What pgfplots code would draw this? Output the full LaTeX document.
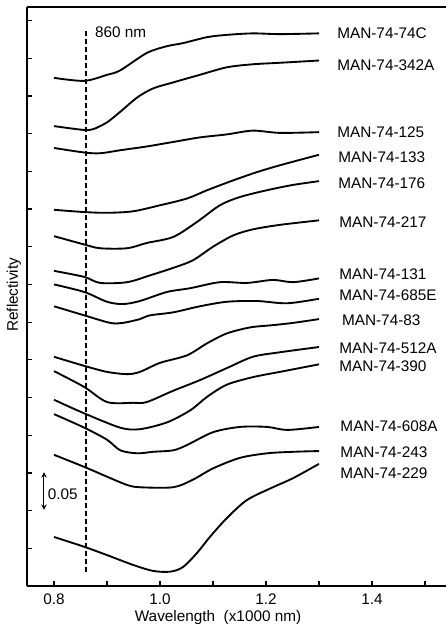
\documentclass[border=0pt]{standalone}
\usepackage{fontspec}
\setmainfont{Liberation Sans}
\usepackage{pgfplots}
\pgfplotsset{compat=1.18}
\begin{document}
\fontsize{11.5}{13}\selectfont
\begin{tikzpicture}
\pgfplotsset{crv/.style={black, line width=1.4pt, mark=none, solid, smooth, tension=0.5}}
\begin{axis}[name=ax, scale only axis, width=314.25pt, height=434.25pt,
  xmin=0.749, xmax=1.5396, ymin=0, ymax=0.768,
  axis x line=box, axis y line*=left,
  axis line style={-, line width=1.3pt},
  y axis line style={-},
  xtick={0.8,1.0,1.2,1.4}, minor xtick={0.9,1.1,1.3,1.5},
  ytick={0.05,0.10,0.15,0.20,0.25,0.30,0.35,0.40,0.45,0.50,0.55,0.60,0.65,0.70,0.75},
  yticklabels={},
  xtick pos=bottom, ytick pos=left,
  tick align=inside, major tick length=3.5pt, minor tick length=3.5pt,
  tick style={black, line width=0.9pt},
  xticklabel style={yshift=-2pt, /pgf/number format/.cd, fixed, fixed zerofill, precision=1, assume math mode=true},
  xlabel={Wavelength\ \ (x1000 nm)},
  x label style={at={(axis description cs:0.456,0)}, anchor=center, yshift=-23.5pt},
  ylabel={Reflectivity},
  y label style={at={(axis description cs:-0.031,0.503)}, anchor=center},
  clip=false
]
% MAN-74-74C
\addplot[crv] coordinates {(0.80,0.674) (0.857,0.670) (0.900,0.678) (0.925,0.684) (0.975,0.707) (1.013,0.716) (1.043,0.720) (1.089,0.728) (1.126,0.731) (1.175,0.733) (1.226,0.732) (1.30,0.733)};
% MAN-74-342A
\addplot[crv] coordinates {(0.80,0.610) (0.855,0.605) (0.874,0.606) (0.900,0.615) (0.925,0.629) (0.957,0.648) (0.987,0.660) (1.025,0.668) (1.075,0.678) (1.126,0.688) (1.175,0.692) (1.226,0.694) (1.30,0.697)};
% MAN-74-125
\addplot[crv] coordinates {(0.80,0.581) (0.857,0.575) (0.887,0.574) (0.925,0.578) (0.975,0.583) (1.025,0.589) (1.075,0.595) (1.126,0.599) (1.175,0.604) (1.226,0.601) (1.30,0.602)};
% MAN-74-133
\addplot[crv] coordinates {(0.80,0.499) (0.857,0.496) (0.900,0.495) (0.949,0.497) (1.000,0.505) (1.051,0.514) (1.089,0.525) (1.138,0.538) (1.183,0.549) (1.226,0.558) (1.30,0.572)};
% MAN-74-176
\addplot[crv] coordinates {(0.80,0.464) (0.857,0.453) (0.887,0.448) (0.938,0.448) (0.975,0.455) (1.025,0.463) (1.070,0.483) (1.113,0.505) (1.151,0.516) (1.202,0.525) (1.251,0.532) (1.30,0.537)};
% MAN-74-217
\addplot[crv] coordinates {(0.80,0.418) (0.857,0.410) (0.887,0.402) (0.938,0.403) (0.981,0.412) (1.025,0.422) (1.062,0.432) (1.100,0.450) (1.138,0.465) (1.175,0.473) (1.226,0.479) (1.30,0.485)};
% MAN-74-131
\addplot[crv] coordinates {(0.80,0.400) (0.857,0.390) (0.900,0.377) (0.930,0.374) (0.962,0.378) (1.013,0.390) (1.057,0.395) (1.113,0.403) (1.164,0.402) (1.213,0.406) (1.251,0.403) (1.30,0.408)};
% MAN-74-685E
\addplot[crv] coordinates {(0.80,0.371) (0.857,0.359) (0.906,0.349) (0.930,0.349) (0.962,0.354) (0.981,0.359) (1.025,0.363) (1.075,0.371) (1.126,0.377) (1.183,0.378) (1.240,0.375) (1.30,0.381)};
% MAN-74-83
\addplot[crv] coordinates {(0.80,0.304) (0.857,0.292) (0.900,0.284) (0.938,0.281) (0.962,0.284) (1.000,0.296) (1.051,0.306) (1.089,0.322) (1.126,0.335) (1.170,0.343) (1.213,0.346) (1.251,0.349) (1.30,0.354)};
% MAN-74-512A
\addplot[crv] coordinates {(0.80,0.285) (0.857,0.264) (0.900,0.244) (0.949,0.243) (0.975,0.244) (1.025,0.259) (1.075,0.273) (1.126,0.289) (1.175,0.304) (1.226,0.310) (1.30,0.317)};
% MAN-74-390
\addplot[crv] coordinates {(0.80,0.247) (0.857,0.229) (0.925,0.210) (0.962,0.208) (1.013,0.217) (1.057,0.233) (1.089,0.251) (1.126,0.267) (1.175,0.277) (1.226,0.284) (1.30,0.294)};
% MAN-74-608A
\addplot[crv] coordinates {(0.80,0.228) (0.857,0.210) (0.900,0.194) (0.925,0.180) (0.957,0.176) (0.987,0.178) (1.025,0.180) (1.051,0.187) (1.100,0.204) (1.151,0.211) (1.202,0.211) (1.240,0.207) (1.30,0.211)};
% MAN-74-243
\addplot[crv] coordinates {(0.80,0.174) (0.857,0.158) (0.900,0.145) (0.938,0.134) (0.962,0.131) (1.025,0.131) (1.062,0.141) (1.100,0.156) (1.151,0.170) (1.202,0.176) (1.251,0.178) (1.30,0.179)};
% MAN-74-229
\addplot[crv] coordinates {(0.80,0.065) (0.857,0.052) (0.900,0.041) (0.949,0.028) (0.987,0.020) (1.019,0.019) (1.043,0.025) (1.070,0.044) (1.094,0.065) (1.126,0.090) (1.164,0.114) (1.213,0.131) (1.251,0.143) (1.30,0.162)};
% 860 nm dashed line
\addplot[black, line width=1.3pt, mark=none, sharp plot, dash pattern=on 3.5pt off 2.5pt] coordinates {(0.86,0.019) (0.86,0.740)};
\node[anchor=west, inner sep=0pt] at (axis cs:0.877,0.735) {860 nm};
% scale arrow
\draw[<->, >=stealth, line width=0.8pt] (axis cs:0.781,0.101) -- (axis cs:0.781,0.151);
\node[anchor=west, inner sep=0pt] at (axis cs:0.788,0.122) {0.05};
% curve labels
\node[anchor=west, inner sep=0pt] at (axis cs:1.334,0.733) {MAN-74-74C};
\node[anchor=west, inner sep=0pt] at (axis cs:1.334,0.691) {MAN-74-342A};
\node[anchor=west, inner sep=0pt] at (axis cs:1.334,0.602) {MAN-74-125};
\node[anchor=west, inner sep=0pt] at (axis cs:1.336,0.569) {MAN-74-133};
\node[anchor=west, inner sep=0pt] at (axis cs:1.336,0.534) {MAN-74-176};
\node[anchor=west, inner sep=0pt] at (axis cs:1.338,0.483) {MAN-74-217};
\node[anchor=west, inner sep=0pt] at (axis cs:1.338,0.414) {MAN-74-131};
\node[anchor=west, inner sep=0pt] at (axis cs:1.338,0.386) {MAN-74-685E};
\node[anchor=west, inner sep=0pt] at (axis cs:1.343,0.353) {MAN-74-83};
\node[anchor=west, inner sep=0pt] at (axis cs:1.338,0.316) {MAN-74-512A};
\node[anchor=west, inner sep=0pt] at (axis cs:1.338,0.292) {MAN-74-390};
\node[anchor=west, inner sep=0pt] at (axis cs:1.340,0.212) {MAN-74-608A};
\node[anchor=west, inner sep=0pt] at (axis cs:1.340,0.178) {MAN-74-243};
\node[anchor=west, inner sep=0pt] at (axis cs:1.340,0.150) {MAN-74-229};
\end{axis}
\pgfresetboundingbox
\path ([xshift=-20.25pt,yshift=-28.5pt]ax.south west) rectangle ([yshift=5.25pt]ax.north east);
\end{tikzpicture}
\end{document}
